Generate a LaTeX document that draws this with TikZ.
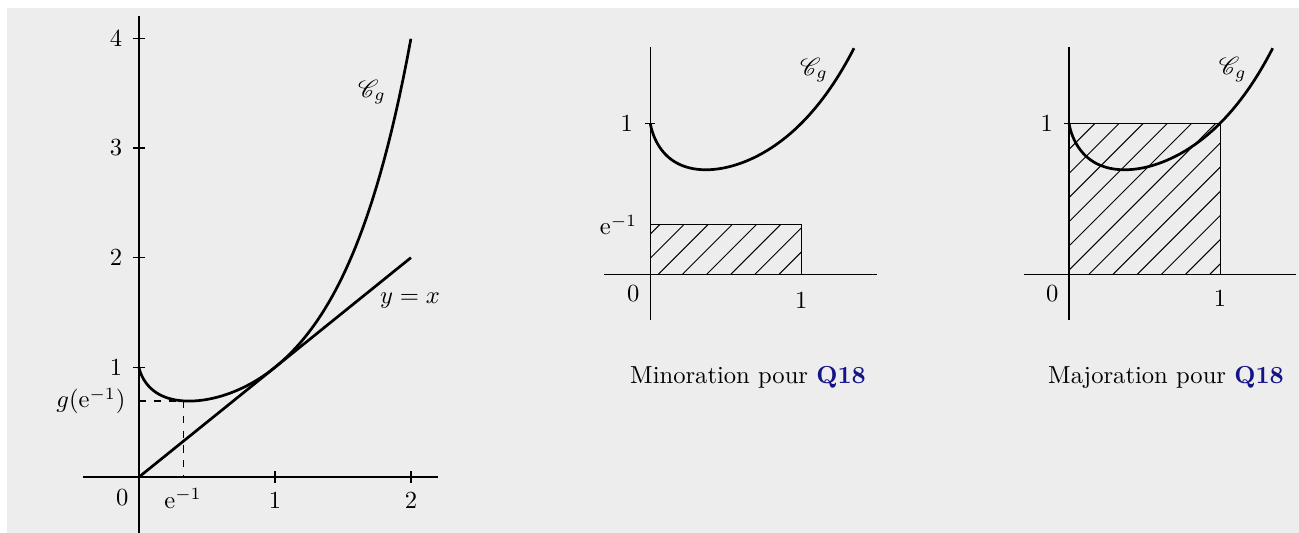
\documentclass[tikz,border=0pt]{standalone}
\usepackage{mathrsfs}
\usepackage{amsmath}
\definecolor{bg}{RGB}{237,237,237}
\definecolor{qblue}{RGB}{20,20,135}
\tikzset{
  axisline/.style={line width=0.5pt},
  curveline/.style={line width=1.1pt},
  hatchline/.style={line width=0.4pt},
  tickline/.style={line width=0.5pt},
  lab/.style={inner sep=0pt},
}
\begin{document}
\begin{tikzpicture}[x=0.4065pt,y=-0.4065pt]
\useasboundingbox (0,0) rectangle (1299,533);
\fill[bg] (7,8) rectangle (1299,533);

% ---------- main plot ----------
\begin{scope}[shift={(56.50pt,-193.90pt)}, x=55.28pt, y=44.59pt]
  \draw[axisline] (-0.41,0) -- (2.2,0);
  \draw[axisline] (0,-0.52) -- (0,4.2);
  \foreach \k in {1,2,3,4}
    \draw[tickline] ([xshift=-2.44pt]0,\k) -- ([xshift=2.44pt]0,\k);
  \foreach \k in {1,2}
    \draw[tickline] ([yshift=-2.44pt]\k,0) -- ([yshift=2.44pt]\k,0);
  \draw[dashed, line width=0.5pt] (0,0.6922) -- (0.326,0.6922) -- (0.326,0);
  \draw[curveline] (0,0) -- (2,2);
  \draw[curveline] (0,1) -- plot[domain=0.03:1.2599, samples=200]
     ({\x*\x*\x},{exp(3*\x*\x*\x*ln(\x))});
\end{scope}

\node[lab, anchor=east] (y4) at (122.7,38.2) {$4$};
\node[lab, anchor=east] (y3) at (122.7,147.9) {$3$};
\node[lab, anchor=east] (y2) at (122.7,257.6) {$2$};
\node[lab, anchor=east] (y1) at (122.7,367.3) {$1$};
\node[lab, anchor=east] (yg) at (126,401) {$g(\mathrm{e}^{-1})$};
\node[lab, anchor=base] (x0) at (122.3,505) {$0$};
\node[lab, anchor=base] (xe) at (183,508) {$\mathrm{e}^{-1}$};
\node[lab, anchor=base] (x1) at (275,508) {$1$};
\node[lab, anchor=base] (x2) at (411,508) {$2$};
\node[lab] (cg1) at (372,92) {$\mathscr{C}_g$};
\node[lab] (yx) at (410,301) {$y=x$};

% ---------- minoration ----------
\begin{scope}[shift={(264.35pt,-111.50pt)}, x=61.38pt, y=61.38pt]
  \begin{scope}
    \clip (0,0) rectangle (1,0.333);
    \foreach \k in {-3,...,7}
      \draw[hatchline] ({0.053+0.16*\k},0) -- ++(1.5,1.5);
  \end{scope}
  \draw[hatchline] (0,0) rectangle (1,0.333);
  \draw[axisline] (-0.305,0) -- (1.503,0);
  \draw[axisline] (0,-0.3) -- (0,1.507);
  \draw[tickline] ([xshift=-2.1pt]0,1) -- ([xshift=2.1pt]0,1);
  \draw[curveline] (0,1) -- plot[domain=0.03:1.1053, samples=200]
     ({\x*\x*\x},{exp(3*\x*\x*\x*ln(\x))});
\end{scope}
\node[lab, anchor=east] (m1) at (633.5,123.3) {$1$};
\node[lab, anchor=base east] (me) at (637.7,235) {$\mathrm{e}^{-1}$};
\node[lab, anchor=base] (m0) at (633.3,301.3) {$0$};
\node[lab, anchor=base] (mx1) at (801.3,308.3) {$1$};
\node[lab] (cg2) at (814,70) {$\mathscr{C}_g$};
\node[lab, anchor=base] (cap1) at (748,383) {Minoration pour \textcolor{qblue}{\textbf{Q18}}};

% ---------- majoration ----------
\begin{scope}[shift={(434.55pt,-111.50pt)}, x=61.38pt, y=61.38pt]
  \begin{scope}
    \clip (0,0) rectangle (1,1);
    \foreach \k in {-7,...,7}
      \draw[hatchline] ({0.132+0.16*\k},0) -- ++(1.5,1.5);
  \end{scope}
  \draw[hatchline] (0,0) rectangle (1,1);
  \draw[axisline] (-0.30,0) -- (1.5,0);
  \draw[axisline] (0,-0.3) -- (0,1.507);
  \draw[tickline] ([xshift=-2.1pt]0,1) -- ([xshift=2.1pt]0,1);
  \draw[curveline] (0,1) -- plot[domain=0.03:1.1053, samples=200]
     ({\x*\x*\x},{exp(3*\x*\x*\x*ln(\x))});
\end{scope}
\node[lab, anchor=east] (M1) at (1053.3,123.3) {$1$};
\node[lab, anchor=base] (M0) at (1052.3,301.3) {$0$};
\node[lab, anchor=base] (Mx1) at (1220,306.3) {$1$};
\node[lab] (cg3) at (1232.7,69.3) {$\mathscr{C}_g$};
\node[lab, anchor=base] (cap2) at (1166,383) {Majoration pour \textcolor{qblue}{\textbf{Q18}}};
\end{tikzpicture}
\end{document}
